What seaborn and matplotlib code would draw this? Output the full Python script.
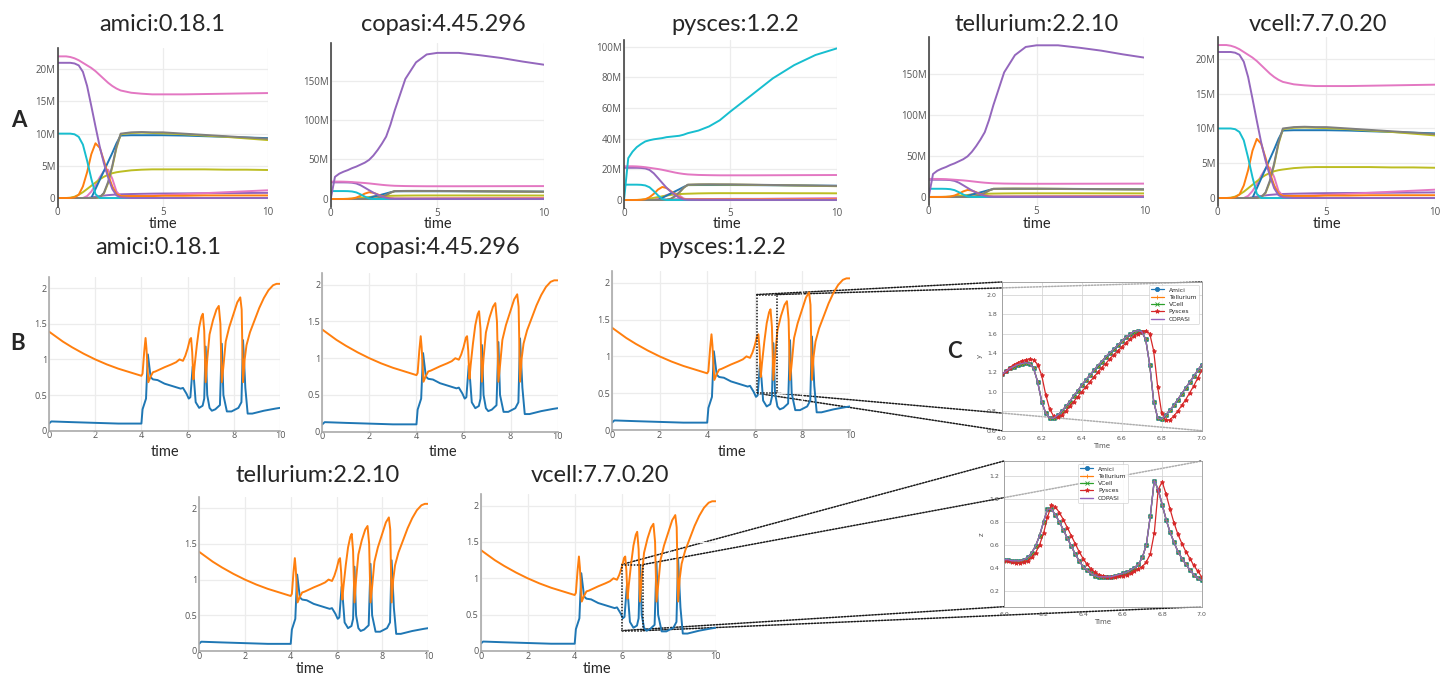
import numpy as np
import pandas as pd
import seaborn as sns
import matplotlib.pyplot as plt
import matplotlib.ticker as mticker
from matplotlib.patches import Rectangle, ConnectionPatch

# ---------------- data ----------------
# Row A: species amounts (millions) over time
tA = [0, 0.2, 0.4, 0.6, 0.8, 1.0, 1.2, 1.4, 1.6, 1.8, 2.0, 2.2, 2.4, 2.6, 2.8, 3.0,
      3.5, 4, 4.5, 5, 6, 7, 8, 9, 10]
s_pink = [22, 22, 22, 21.9, 21.7, 21.4, 21.0, 20.6, 20.2, 19.7, 19.1, 18.5, 17.9, 17.4, 17.0, 16.7,
          16.35, 16.2, 16.1, 16.1, 16.1, 16.15, 16.2, 16.25, 16.3]
s_purple = [21, 21, 21, 21, 20.9, 20.6, 19.6, 17.4, 14.3, 11.1, 8.0, 5.4, 3.2, 1.4, 0.4, 0.1,
            0, 0, 0, 0, 0, 0, 0, 0, 0]
s_cyan = [10, 10, 10, 10, 9.9, 9.5, 8.3, 5.8, 3.0, 0.6, 0, 0, 0, 0, 0, 0,
          0, 0, 0, 0, 0, 0, 0, 0, 0]
s_orange = [0, 0, 0, 0, 0.1, 0.5, 1.8, 4.0, 6.8, 8.5, 7.8, 5.8, 3.6, 1.8, 0.6, 0.3,
            0.3, 0.3, 0.3, 0.35, 0.35, 0.4, 0.4, 0.4, 0.4]
s_blue = [0, 0, 0, 0, 0, 0, 0, 0, 0, 1.4, 2.8, 4.2, 5.6, 7.0, 8.5, 9.7,
          9.75, 9.75, 9.75, 9.75, 9.7, 9.6, 9.5, 9.4, 9.3]
s_gray = [0, 0, 0, 0, 0, 0, 0, 0, 0, 0, 0.1, 0.8, 2.5, 5.0, 8.0, 10.0,
          10.2, 10.25, 10.2, 10.2, 10.0, 9.8, 9.6, 9.4, 9.2]
s_olive = [0, 0, 0, 0.05, 0.2, 0.5, 0.9, 1.4, 1.9, 2.4, 2.9, 3.3, 3.6, 3.85, 4.0, 4.1,
           4.3, 4.4, 4.45, 4.45, 4.45, 4.45, 4.4, 4.4, 4.35]
s_olive2 = [0, 0, 0, 0, 0, 0, 0, 0, 0, 0, 0.1, 0.7, 2.3, 4.8, 7.8, 9.9,
            10.1, 10.15, 10.1, 10.05, 9.9, 9.7, 9.5, 9.25, 9.0]
s_pink2 = [0, 0, 0, 0, 0, 0, 0, 0.3, 1.0, 2.0, 3.2, 4.2, 4.4, 3.0, 1.0, 0.3,
           0.3, 0.35, 0.4, 0.45, 0.6, 0.75, 0.9, 1.05, 1.2]
s_purple2 = [0, 0, 0, 0, 0, 0, 0, 0, 0.1, 0.2, 0.3, 0.38, 0.45, 0.5, 0.55, 0.58,
             0.62, 0.65, 0.68, 0.7, 0.72, 0.74, 0.76, 0.78, 0.8]
s_bigpurple = [0, 28, 32, 34.5, 36.5, 39, 41, 43.5, 46, 49.5, 55, 62, 70, 79, 94, 112,
               152, 173, 183, 185, 185, 182, 178.5, 174, 170]
s_bigcyan = [0, 27.3, 31.5, 34.5, 36.5, 38.2, 39.0, 39.6, 40.0, 40.4, 41.0, 41.3, 41.6, 41.9, 42.6, 43.6,
             45.3, 48, 52, 57.7, 68.5, 79.4, 88, 94.6, 98.9]

# Row B: two oscillating species
b_t = [0, 0.1, 1, 2, 3, 4.0, 4.05, 4.1, 4.2, 4.28, 4.4, 4.5, 4.7, 5.0, 5.4, 5.7, 5.8, 5.95, 6.05, 6.12,
       6.22, 6.28, 6.35, 6.5, 6.65, 6.72, 6.78, 6.85, 6.95, 7.05, 7.2, 7.4, 7.48, 7.55, 7.7, 7.9, 8.2,
       8.33, 8.4, 8.5, 8.6, 8.8, 9.3, 9.8, 10]
b_v = [0.10, 0.13, 0.12, 0.11, 0.10, 0.10, 0.30, 0.35, 0.45, 1.07, 0.75, 0.72, 0.71, 0.66, 0.62, 0.59,
       0.60, 0.52, 0.45, 0.47, 0.90, 0.70, 0.40, 0.32, 0.35, 0.45, 1.18, 0.50, 0.32, 0.28, 0.30, 0.36,
       1.22, 0.50, 0.27, 0.27, 0.32, 0.40, 1.27, 0.60, 0.24, 0.24, 0.28, 0.31, 0.32]
o_t = [0, 0.3, 0.6, 1.0, 1.5, 2.0, 2.5, 3.0, 3.5, 4.0, 4.05, 4.12, 4.18, 4.22, 4.3, 4.4, 4.5, 4.6, 4.8,
       5.0, 5.3, 5.5, 5.65, 5.8, 5.9, 6.0, 6.1, 6.15, 6.2, 6.25, 6.3, 6.4, 6.5, 6.6, 6.66, 6.72, 6.78,
       6.85, 6.95, 7.1, 7.25, 7.35, 7.42, 7.48, 7.55, 7.65, 7.8, 8.0, 8.15, 8.28, 8.34, 8.4, 8.47, 8.55,
       8.7, 8.9, 9.1, 9.3, 9.5, 9.7, 9.85, 10]
o_v = [1.39, 1.32, 1.25, 1.17, 1.08, 1.00, 0.93, 0.87, 0.82, 0.77, 0.80, 1.10, 1.30, 1.15, 0.68, 0.76,
       0.82, 0.83, 0.86, 0.89, 0.93, 0.96, 1.00, 0.98, 1.05, 1.15, 1.28, 1.30, 1.10, 0.72, 0.90, 1.20,
       1.45, 1.60, 1.64, 1.40, 0.68, 1.00, 1.35, 1.55, 1.70, 1.75, 1.50, 0.68, 0.90, 1.25, 1.45, 1.65,
       1.80, 1.87, 1.70, 0.68, 1.00, 1.20, 1.38, 1.55, 1.72, 1.86, 1.97, 2.04, 2.06, 2.06]

# Row C: zoom 6.0 - 7.0, sampled every 0.02
tC = np.linspace(6.0, 7.0, 51)
yC_main = [1.18, 1.21, 1.24, 1.26, 1.28, 1.29, 1.30, 1.29, 1.24, 1.10, 0.90, 0.78, 0.73, 0.73, 0.76,
           0.80, 0.85, 0.90, 0.96, 1.01, 1.07, 1.12, 1.17, 1.22, 1.27, 1.31, 1.36, 1.40, 1.44, 1.48,
           1.52, 1.56, 1.59, 1.62, 1.63, 1.62, 1.54, 1.28, 0.90, 0.73, 0.72, 0.76, 0.81, 0.86, 0.92,
           0.98, 1.04, 1.10, 1.16, 1.22, 1.28]
yC_pys = [1.18, 1.21, 1.25, 1.28, 1.30, 1.32, 1.33, 1.34, 1.33, 1.28, 1.17, 0.97, 0.82, 0.75, 0.74,
          0.76, 0.80, 0.85, 0.90, 0.95, 1.00, 1.05, 1.10, 1.15, 1.20, 1.25, 1.29, 1.34, 1.38, 1.42,
          1.46, 1.50, 1.54, 1.57, 1.60, 1.62, 1.63, 1.60, 1.42, 1.05, 0.78, 0.71, 0.71, 0.75, 0.80,
          0.86, 0.92, 0.99, 1.06, 1.14, 1.22]
zC_main = [0.47, 0.47, 0.46, 0.46, 0.46, 0.47, 0.49, 0.53, 0.59, 0.68, 0.80, 0.91, 0.91, 0.86, 0.80,
           0.73, 0.66, 0.59, 0.52, 0.46, 0.41, 0.38, 0.35, 0.33, 0.32, 0.32, 0.32, 0.32, 0.33, 0.34,
           0.35, 0.36, 0.38, 0.40, 0.43, 0.49, 0.60, 0.85, 1.16, 1.08, 0.95, 0.82, 0.71, 0.62, 0.54,
           0.48, 0.43, 0.38, 0.34, 0.31, 0.29]
zC_pys = [0.46, 0.46, 0.45, 0.44, 0.44, 0.45, 0.46, 0.49, 0.53, 0.60, 0.70, 0.84, 0.95, 0.93, 0.88,
          0.82, 0.75, 0.68, 0.61, 0.54, 0.48, 0.43, 0.39, 0.36, 0.34, 0.33, 0.32, 0.32, 0.32, 0.33,
          0.33, 0.34, 0.35, 0.37, 0.39, 0.41, 0.45, 0.52, 0.70, 1.08, 1.15, 1.04, 0.91, 0.79, 0.69,
          0.61, 0.54, 0.48, 0.42, 0.37, 0.32]

# ---------------- figure ----------------
sns.set_theme(style="white")
plt.rcParams['font.family'] = ['Lato', 'DejaVu Sans']

W, H = 1447, 677
fig = plt.figure(figsize=(W / 100, H / 100), dpi=100)
fig.patch.set_facecolor('white')
pal = dict(zip(['blue', 'orange', 'green', 'red', 'purple', 'brown', 'pink', 'gray', 'olive', 'cyan'],
               sns.color_palette('tab10')))


def box(x0, top, x1, bottom):
    ax = fig.add_axes([x0 / W, 1 - bottom / H, (x1 - x0) / W, (bottom - top) / H])
    ax.set_facecolor('none')
    return ax


def ftext(x, y, s, size, **kw):
    fig.text(x / W, 1 - y / H, s, fontsize=size, ha='center', va='baseline', **kw)


def plotly_look(ax, line_color):
    for side in ['top', 'right', 'bottom', 'left']:
        ax.spines[side].set_visible(False)
    ax.spines['left'].set_visible(True)
    ax.spines['left'].set_color(line_color)
    ax.spines['left'].set_linewidth(1.2)
    ax.grid(True, color='#ececec', lw=0.9)
    ax.tick_params(length=0, pad=2, labelcolor='#555')
    for lab in ax.get_xticklabels() + ax.get_yticklabels():
        lab.set_family(['Open Sans', 'DejaVu Sans'])
    ax.set_xlabel('')
    ax.set_ylabel('')


base = [('purple2', s_purple2, 'purple'), ('pink2', s_pink2, 'pink'), ('olive', s_olive, 'olive'),
        ('blue', s_blue, 'blue'), ('olive2', s_olive2, 'olive'), ('gray', s_gray, 'gray'),
        ('orange', s_orange, 'orange'), ('cyan', s_cyan, 'cyan'), ('purple', s_purple, 'purple'),
        ('pink', s_pink, 'pink')]
extra = {'bigpurple': ('bigpurple', s_bigpurple, 'purple'), 'bigcyan': ('bigcyan', s_bigcyan, 'cyan')}

A_panels = [
    ('amici:0.18.1', (57.7, 48, 267.7, 206.7), (-1.35, 23.3), [0, 5, 10, 15, 20], None, 162, 163),
    ('copasi:4.45.296', (330.7, 43, 544, 207.5), (-10.8, 197.5), [0, 50, 100, 150], 'bigpurple', 443, 438),
    ('pysces:1.2.2', (624, 40, 836.7, 207.5), (-4.9, 104.4), [0, 20, 40, 60, 80, 100], 'bigcyan', 735, 727),
    ('tellurium:2.2.10', (928.7, 36.7, 1144.3, 205), (-9.8, 195.5), [0, 50, 100, 150], 'bigpurple', 1037, 1037),
    ('vcell:7.7.0.20', (1217.7, 36.7, 1435, 206), (-1.15, 23.2), [0, 5, 10, 15, 20], None, 1318, 1327),
]

for title, pos, ylim, yticks, big, tx, lx in A_panels:
    ax = box(*pos)
    species = base + ([extra[big]] if big else [])
    df = pd.concat([pd.DataFrame({'time': tA, 'value': v, 'species': n}) for n, v, c in species])
    sns.lineplot(data=df, x='time', y='value', hue='species', hue_order=[n for n, _, _ in species],
                 palette={n: pal[c] for n, _, c in species}, legend=False, lw=1.4, ax=ax)
    ax.set_xlim(0, 10)
    ax.set_ylim(*ylim)
    ax.set_xticks([0, 5, 10])
    ax.set_yticks(yticks)
    ax.yaxis.set_major_formatter(mticker.FuncFormatter(lambda v, _: '0' if v == 0 else f'{v:g}M'))
    plotly_look(ax, '#444')
    ax.tick_params(labelsize=7, pad=1.5)
    ax.tick_params(axis='x', pad=0.5)
    ftext(tx, 31, title, 17)
    ftext(lx, 228, 'time', 10.5)

B_panels = [
    ('amici:0.18.1', (49, 276.7, 280, 430.7), 158, 254.5, 164.5, 456.5),
    ('copasi:4.45.296', (322.3, 273, 557.7, 431.7), 437, 254.5, 443, 456.5),
    ('pysces:1.2.2', (612, 271, 850, 430), 722, 254.5, 731.7, 456.5),
    ('tellurium:2.2.10', (199, 496.7, 428.3, 651), 318, 481.5, 310, 673),
    ('vcell:7.7.0.20', (480.7, 494, 715.7, 651), 600, 481.5, 597, 673),
]
dfB = pd.concat([pd.DataFrame({'time': b_t, 'value': b_v, 'species': 'x'}),
                 pd.DataFrame({'time': o_t, 'value': o_v, 'species': 'y'})])
B_axes = {}
for title, pos, tx, ty, lx, ly in B_panels:
    ax = box(*pos)
    sns.lineplot(data=dfB, x='time', y='value', hue='species', hue_order=['x', 'y'],
                 palette={'x': pal['blue'], 'y': pal['orange']}, legend=False, lw=1.4, ax=ax)
    ax.set_xlim(0, 10)
    ax.set_ylim(0, 2.16)
    ax.set_xticks([0, 2, 4, 6, 8, 10])
    ax.set_yticks([0, 0.5, 1, 1.5, 2])
    ax.yaxis.set_major_formatter(mticker.FuncFormatter(lambda v, _: f'{v:g}'))
    plotly_look(ax, '#aaa')
    ax.spines['bottom'].set_visible(True)
    ax.spines['bottom'].set_color('#aaa')
    ax.spines['bottom'].set_linewidth(1.2)
    ax.tick_params(labelsize=6.5, pad=1.5)
    ax.tick_params(axis='x', pad=0.5)
    ftext(tx, ty, title, 17)
    ftext(lx, ly, 'time', 10.5)
    B_axes[title.split(':')[0]] = ax

# ---------------- C: zoomed comparisons ----------------
tab = sns.color_palette('tab10')


def draw_C(ax, main, pys, ylim, yticks, ylab, loc):
    series = [('Amici', main, tab[0], 'o', 3.0), ('Tellurium', main, tab[1], '+', 3.5),
              ('VCell', main, tab[2], 'x', 3.0), ('Pysces', pys, tab[3], '*', 3.2)]
    for name, vals, col, mk, ms in series:
        sns.lineplot(x=tC, y=vals, color=col, marker=mk, markersize=ms, markeredgecolor=col,
                     markeredgewidth=0.6, lw=0.9, label=name, ax=ax)
    sns.lineplot(x=tC, y=main, color=tab[4], lw=1.0, label='COPASI', ax=ax)
    ax.set_xlim(6.0, 7.0)
    ax.set_ylim(*ylim)
    ax.set_xticks([6.0, 6.2, 6.4, 6.6, 6.8, 7.0])
    ax.set_yticks(yticks)
    ax.xaxis.set_major_formatter(mticker.FormatStrFormatter('%.1f'))
    ax.yaxis.set_major_formatter(mticker.FormatStrFormatter('%.1f'))
    ax.grid(True, color='#d6d6d6', lw=0.6)
    for s in ax.spines.values():
        s.set_color('#999')
        s.set_linewidth(0.6)
    ax.tick_params(labelsize=4.5, length=2, width=0.5, pad=1.5, colors='#555')
    for lab in ax.get_xticklabels() + ax.get_yticklabels():
        lab.set_family(['DejaVu Sans'])
    ax.set_xlabel('Time', fontsize=5, color='#555', labelpad=2, family=['DejaVu Sans'])
    ax.set_ylabel(ylab, fontsize=5, color='#555', labelpad=3, family=['DejaVu Sans'])
    leg = ax.legend(loc=loc, handlelength=2.2, borderpad=0.4, labelspacing=0.35,
                    framealpha=0.85, prop={'family': 'DejaVu Sans', 'size': 4.3})
    leg.get_frame().set_linewidth(0.5)


axC1 = box(1001.7, 282, 1201.7, 430.7)
draw_C(axC1, yC_main, yC_pys, (0.6, 2.13), [0.6, 0.8, 1.0, 1.2, 1.4, 1.6, 1.8, 2.0], 'y', 'upper right')
axC2 = box(1004, 461, 1201.7, 606.7)
draw_C(axC2, zC_main, zC_pys, (0.06, 1.33), [0.2, 0.4, 0.6, 0.8, 1.0, 1.2], 'z', 'upper center')
axC1.set_facecolor((1, 1, 1, 0.65))
axC2.set_facecolor((1, 1, 1, 0.65))

# zoom boxes and connectors
zooms = [(B_axes['pysces'], 6.08, 6.92, 0.50, 1.84, axC1),
         (B_axes['vcell'], 6.0, 6.92, 0.28, 1.19, axC2)]
for src, x0, x1, y0, y1, dst in zooms:
    src.add_patch(Rectangle((x0, y0), x1 - x0, y1 - y0, fill=False, ec='k', lw=1.1,
                            ls=(0, (1, 1)), zorder=5))
    for (xa, ya), (xb, yb) in [((x0, y1), (0, 1)), ((x1, y1), (1, 1)),
                               ((x0, y0), (0, 0)), ((x1, y0), (1, 0))]:
        con = ConnectionPatch(xyA=(xa, ya), coordsA=src.transData, xyB=(xb, yb),
                              coordsB=dst.transAxes, color='k', lw=1.1, ls=(0, (1, 1)), zorder=-1)
        fig.add_artist(con)

# panel letters
ftext(18.5, 127, 'A', 16, weight='bold')
ftext(18, 349.5, 'B', 16, weight='bold')
ftext(954, 358, 'C', 16, weight='bold')

fig.savefig('out.png', dpi=100)
